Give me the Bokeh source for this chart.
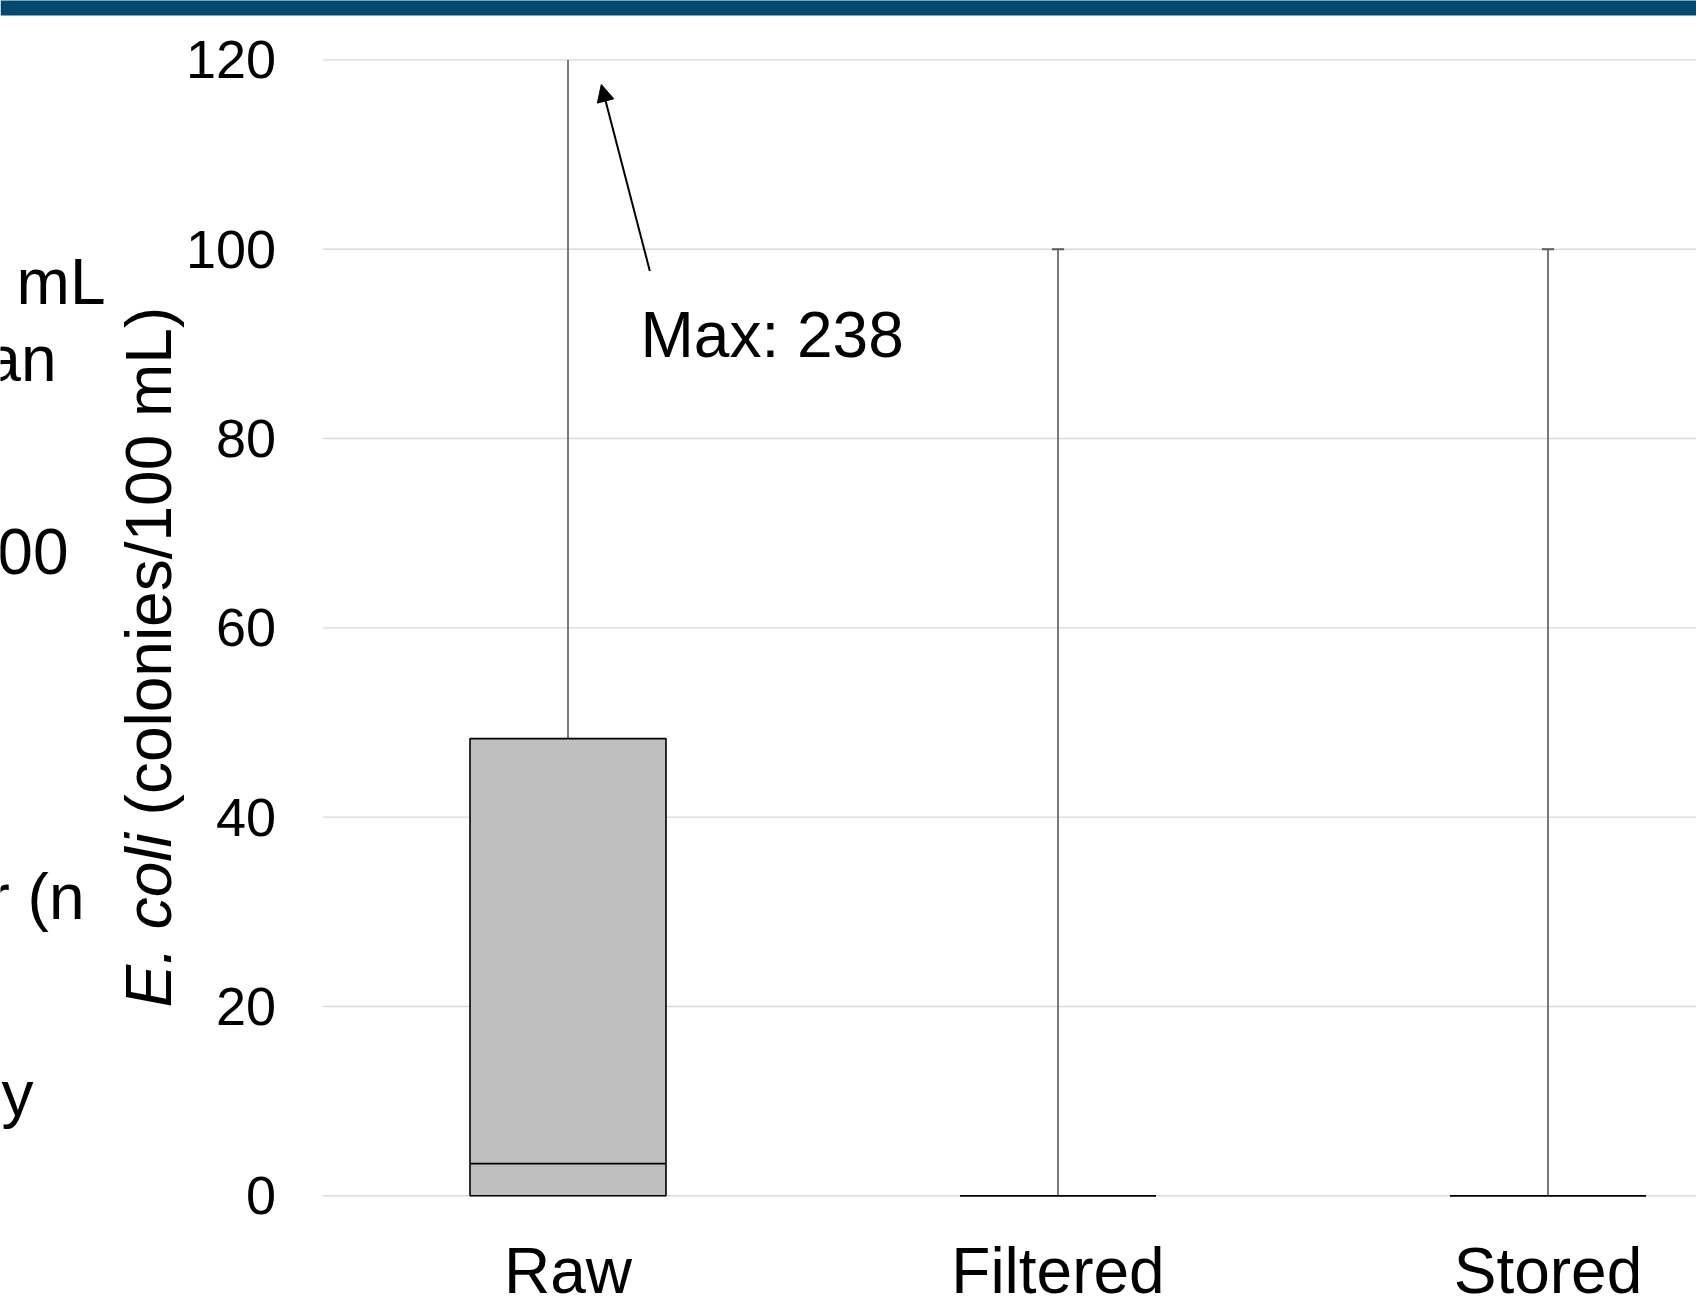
import numpy as np
from bokeh.plotting import figure
from bokeh.models import (Range1d, FixedTicker, LabelSet, ColumnDataSource,
                          Arrow, NormalHead, BoxAnnotation)
from bokeh.core.properties import value
from bokeh.embed import file_html
from bokeh.resources import INLINE

# ---------------- data ----------------
categories = ["Raw", "Filtered", "Stored"]
whisker_low = [0, 0, 0]
q1 = [0, 0, 0]
median = [3.4, 0, 0]
q3 = [48.3, 0, 0]
whisker_high = [238, 100, 100]
y_ticks = [0, 20, 40, 60, 80, 100, 120]
y_title_italic = "E. coli"
y_title_rest = "(colonies/100 mL)"
max_note = f"Max: {whisker_high[0]}"
side_fragments = ["mL", "an", "00", "r (n", "y"]

# ---------------- layout constants (pixels) ----------------
FONT = "Liberation Sans"
BLUE = "#034B6C"
W, H = 1696, 1298
X0_PX = 322.5          # canvas x of data x = 0
Y0_PX = 1195.3         # canvas y of data y = 0
PX_PER_UNIT = 9.466
PX_PER_CAT = 490
axis_max = y_ticks[-1]

x_range = Range1d(-X0_PX / PX_PER_CAT, (W - X0_PX) / PX_PER_CAT)
y_range = Range1d(-(H - Y0_PX) / PX_PER_UNIT, Y0_PX / PX_PER_UNIT)

p = figure(width=W, height=H, x_range=x_range, y_range=y_range,
           x_axis_type=None, toolbar_location=None, output_backend="svg",
           min_border=0)
p.outline_line_color = None
p.background_fill_color = "white"
p.border_fill_color = "white"
p.ygrid.visible = False
p.xgrid.visible = False

# y axis drawn at data x = 0 (tick labels to its left)
ax = p.yaxis[0]
ax.fixed_location = 0
ax.ticker = FixedTicker(ticks=y_ticks)
ax.major_label_text_font = FONT
ax.major_label_text_font_size = "54px"
ax.major_label_text_color = "black"
ax.major_label_standoff = 47
ax.axis_line_color = None
ax.major_tick_line_color = None
ax.minor_tick_line_color = None
ax.major_tick_out = 0
ax.major_tick_in = 0

# horizontal gridlines across the plot area
p.segment(x0=0, x1=x_range.end, y0=y_ticks, y1=y_ticks,
          line_color="#D9D9D9", line_width=1.4)

# ---------------- boxes ----------------
x = np.arange(len(categories)) + 0.5
half_box = 0.2
half_cap = 0.0125
hi_arr = np.array(whisker_high, dtype=float)
hi_clip = np.minimum(hi_arr, axis_max)
src = ColumnDataSource(dict(
    x=x, cat=categories, lo=whisker_low, q1=q1, med=median, q3=q3, hi=hi_clip,
    left=x - half_box, right=x + half_box,
))
cap_mask = hi_arr <= axis_max
cap_src = ColumnDataSource(dict(cl=(x - half_cap)[cap_mask], cr=(x + half_cap)[cap_mask],
                                hi=hi_arr[cap_mask]))

WH = "#595959"
p.segment(x0="x", y0="q3", x1="x", y1="hi", source=src, line_color=WH, line_width=1.6)
p.segment(x0="x", y0="lo", x1="x", y1="q1", source=src, line_color=WH, line_width=1.6)
p.segment(x0="cl", y0="hi", x1="cr", y1="hi", source=cap_src, line_color=WH, line_width=2)
p.quad(left="left", right="right", bottom="q1", top="q3", source=src,
       fill_color="#BFBFBF", line_color="black", line_width=1.6)
p.segment(x0="left", y0="med", x1="right", y1="med", source=src,
          line_color="black", line_width=1.6)

# category labels near bottom edge
p.add_layout(LabelSet(x="x", y=6, x_units="data", y_units="screen", text="cat",
                      source=src, text_align="center", text_baseline="alphabetic",
                      text_font=value(FONT), text_font_size=value("64px"),
                      text_color="black"))

# y-axis title in two parts (italic species name), rotated
TITLE_PX = 64
TITLE_X = 170.5
TITLE_Y = H - 1007
t1 = ColumnDataSource(dict(x=[TITLE_X], y=[TITLE_Y], t=[y_title_italic]))
t2 = ColumnDataSource(dict(x=[TITLE_X], y=[TITLE_Y + (2.723 + 0.278) * TITLE_PX],
                           t=[y_title_rest]))
p.add_layout(LabelSet(x="x", y="y", text="t", source=t1, x_units="screen",
                      y_units="screen", angle=np.pi / 2, text_font=value(FONT),
                      text_font_style="italic", text_font_size=value(f"{TITLE_PX}px"),
                      text_align="left", text_baseline="alphabetic", text_color="black"))
p.add_layout(LabelSet(x="x", y="y", text="t", source=t2, x_units="screen",
                      y_units="screen", angle=np.pi / 2, text_font=value(FONT),
                      text_font_size=value(f"{TITLE_PX}px"),
                      text_align="left", text_baseline="alphabetic", text_color="black"))

# annotation arrow and note
p.add_layout(Arrow(end=NormalHead(size=17, fill_color="black", line_color="black"),
                   x_start=0.667, y_start=97.7, x_end=0.568, y_end=117.4,
                   line_color="black", line_width=2))
note_src = ColumnDataSource(dict(x=[0.648], y=[88.6], t=[max_note]))
p.add_layout(LabelSet(x="x", y="y", text="t", source=note_src, text_font=value(FONT),
                      text_font_size=value("64px"), text_align="left",
                      text_baseline="alphabetic", text_color="black"))

# cut-off slide text fragments at the left edge
frag_src = ColumnDataSource(dict(
    x=[105, 56, 68, 84, 33],
    y=[H - 303, H - 380, H - 573, H - 918, H - 1115],
    t=side_fragments,
))
p.add_layout(LabelSet(x="x", y="y", text="t", source=frag_src, x_units="screen",
                      y_units="screen", text_font=value(FONT),
                      text_font_size=value("64px"), text_align="right",
                      text_baseline="alphabetic", text_color="black"))

# dark blue band at the top
p.add_layout(BoxAnnotation(left=0, right=W, bottom=H - 15, top=H + 10,
                           left_units="screen", right_units="screen",
                           bottom_units="screen", top_units="screen",
                           fill_color=BLUE, fill_alpha=1.0, line_color=None))

open("out.html", "w").write(file_html(p, INLINE))
